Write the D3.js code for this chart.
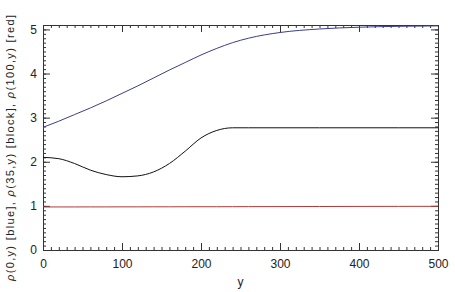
<!DOCTYPE html>
<html>
<head>
<meta charset="utf-8">
<script src="https://cdn.jsdelivr.net/npm/d3@7"></script>
<style>
  body { margin: 0; background: #fff; }
  svg text { font-family: "Liberation Sans", Arial, sans-serif; fill: #222; }
</style>
</head>
<body>
<div id="displaybox"></div>
<script>
// values
let yPos = [0, 20, 40, 60, 80, 100, 120, 140, 160, 180, 200, 220, 240, 260, 300, 350, 400, 450, 500];
let rho0 = [2.78, 2.92, 3.07, 3.22, 3.38, 3.55, 3.72, 3.90, 4.08, 4.25, 4.42, 4.57, 4.70, 4.80, 4.93, 5.01, 5.05, 5.07, 5.08];
let rho35 = [2.10, 2.07, 1.96, 1.81, 1.71, 1.66, 1.68, 1.77, 1.96, 2.24, 2.54, 2.71, 2.77, 2.77, 2.77, 2.77, 2.77, 2.77, 2.77];
let rho100 = [0.975, 0.976, 0.976, 0.977, 0.977, 0.978, 0.978, 0.979, 0.979, 0.980, 0.981, 0.981, 0.982, 0.983, 0.984, 0.986, 0.988, 0.989, 0.990];

let xTicks = [0, 100, 200, 300, 400, 500];
let yTicks = [0, 1, 2, 3, 4, 5];
let yLabelParts = [["\u03C1", true], ["(0,y) [blue], ", false], ["\u03C1", true], ["(35,y) [block], ", false], ["\u03C1", true], ["(100,y) [red]", false]];

let margin = {top: 25, right: 17, bottom: 42, left: 43};
let width = 455 - margin.left - margin.right;
let height = 292 - margin.top - margin.bottom;

let svg = d3.select("#displaybox")
    .append("svg")
        .attr("width", 455)
        .attr("height", 292);
let group = svg.append("g")
    .attr("transform", `translate(${margin.left}, ${margin.top})`);

let x = d3.scaleLinear().domain([0, 500]).range([0, width]);
let y = d3.scaleLinear().domain([0, 5.1]).range([height, 0]);

// axes, IDL style: ticks pointing inward on all four sides
function styleAxis(g) {
    g.selectAll(".domain").attr("stroke", "#333");
    g.selectAll(".tick line").attr("stroke", "#333");
    g.selectAll("text").style("font-size", "12px").attr("fill", "#222");
}

let minorX = d3.range(0, 501, 10);
let minorY = d3.range(0, 5.05, 0.1);

group.append("g")
    .attr("transform", `translate(0, ${height})`)
    .call(d3.axisBottom(x).tickValues(xTicks).tickSize(-7).tickPadding(9))
    .call(styleAxis);
group.append("g")
    .attr("transform", `translate(0, ${height})`)
    .call(d3.axisBottom(x).tickValues(minorX).tickSize(-3).tickFormat(""))
    .call(styleAxis);
group.append("g")
    .call(d3.axisTop(x).tickValues(xTicks).tickSize(-7).tickFormat(""))
    .call(styleAxis);
group.append("g")
    .call(d3.axisTop(x).tickValues(minorX).tickSize(-3).tickFormat(""))
    .call(styleAxis);

group.append("g")
    .call(d3.axisLeft(y).tickValues(yTicks).tickSize(-7).tickPadding(6).tickFormat(d3.format("d")))
    .call(styleAxis);
group.append("g")
    .call(d3.axisLeft(y).tickValues(minorY).tickSize(-3).tickFormat(""))
    .call(styleAxis);
group.append("g")
    .attr("transform", `translate(${width}, 0)`)
    .call(d3.axisRight(y).tickValues(yTicks).tickSize(-7).tickFormat(""))
    .call(styleAxis);
group.append("g")
    .attr("transform", `translate(${width}, 0)`)
    .call(d3.axisRight(y).tickValues(minorY).tickSize(-3).tickFormat(""))
    .call(styleAxis);

// curves
let series = [
    {values: rho100, color: "#b03a3a"},
    {values: rho35, color: "#111111"},
    {values: rho0, color: "#3c3c8e"}
];
let line = d3.line()
    .x(function(d) { return x(d[0]); })
    .y(function(d) { return y(d[1]); })
    .curve(d3.curveMonotoneX);

series.forEach(function(s) {
    group.append("path")
        .datum(yPos.map(function(v, i) { return [v, s.values[i]]; }))
        .attr("fill", "none")
        .attr("stroke", s.color)
        .attr("stroke-width", 1)
        .attr("d", line);
});

// axis titles
svg.append("text")
    .attr("x", margin.left + width / 2)
    .attr("y", 286)
    .attr("text-anchor", "middle")
    .style("font-size", "12px")
    .text("y");

let ylab = svg.append("text")
    .attr("transform", "translate(14, 148) rotate(-90)")
    .attr("text-anchor", "middle")
    .attr("textLength", 266)
    .attr("lengthAdjust", "spacing")
    .style("font-size", "11px");
ylab.selectAll("tspan").data(yLabelParts)
    .enter()
    .append("tspan")
        .style("font-style", function(d) { return d[1] ? "italic" : "normal"; })
        .text(function(d) { return d[0]; });
</script>
</body>
</html>
